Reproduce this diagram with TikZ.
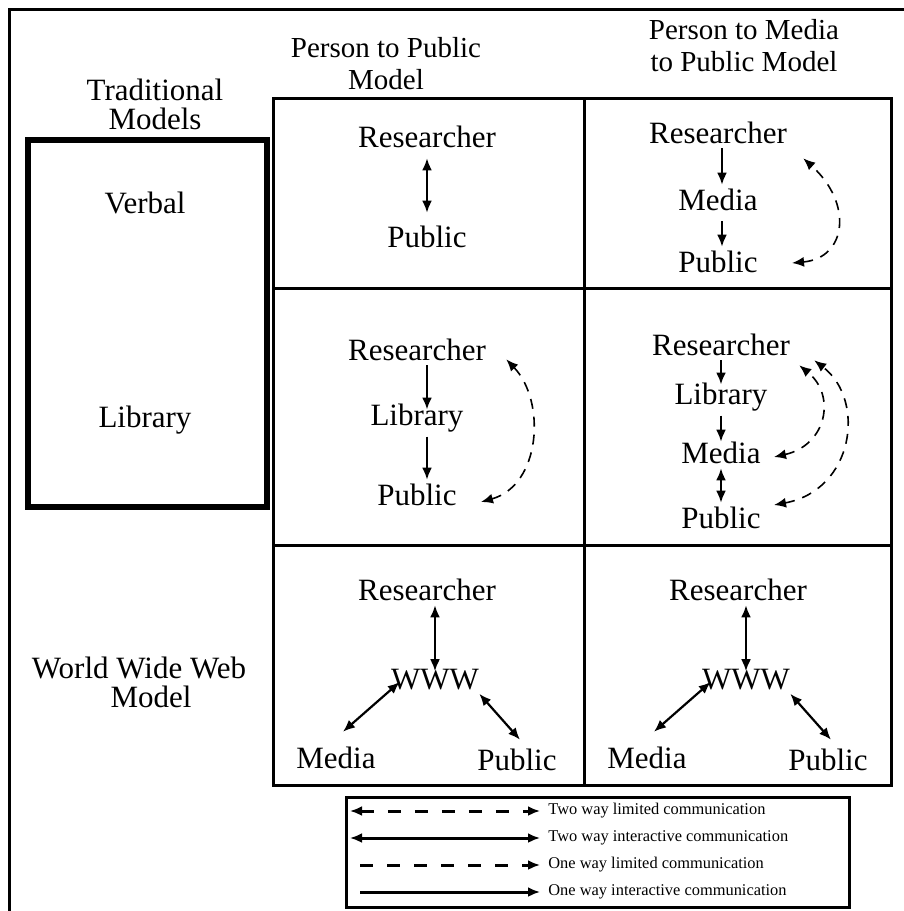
\documentclass[tikz,border=0pt]{standalone}
\usepackage{fontspec}
\setmainfont{Liberation Serif}
\usetikzlibrary{calc,arrows.meta}
\tikzset{>={Latex[length=6pt,width=5pt]}}
\tikzset{
  word/.style={inner sep=2pt, font=\fontsize{15.5}{18}\selectfont},
  side/.style={align=center, inner sep=0pt, font=\fontsize{15.5}{14.5}\selectfont},
  head/.style={align=center, inner sep=0pt, font=\fontsize{14.5}{16}\selectfont},
  key/.style={anchor=west, inner sep=0pt, font=\fontsize{8.2}{9}\selectfont},
  rule/.style={line width=1.5pt},
  oneway/.style={->, line width=1.1pt},
  twoway/.style={<->, line width=1.1pt},
  limited/.style={<->, line width=0.8pt, dash pattern=on 5pt off 4pt},
}

\begin{document}
\begin{tikzpicture}[x=0.5pt,y=-0.5pt]
\useasboundingbox (0,0) rectangle (904,911);
\clip (0,0) rectangle (904,911);

% frame and table
\draw[rule] (9,9) rectangle (1100,1100);
\draw[line width=3pt] (28,140) rectangle (267,507);
\draw[rule] (273,98) rectangle (891,785);
\draw[rule] (584,98) -- (584,785);
\draw[rule] (273,288) -- (891,288);
\draw[rule] (273,545) -- (891,545);

% headings
\node[head] (h1) at (386,64) {Person to Public\\Model};
\node[head] (h2) at (744,46) {Person to Media\\to Public Model};
\node[side] (trad) at (155,104) {Traditional\\Models};
\node[side] (verb) at (145,203) {Verbal};
\node[side] (libr) at (145,420) {Library};
\node[side] (web) at (139,682) {World Wide Web\\\hspace*{12pt}Model};

% verbal, person to public
\node[word] (r11) at (427,137) {Researcher};
\node[word] (p11) at (427,237) {Public};
\draw[twoway, shorten <=3pt, shorten >=4.5pt] (r11) -- (p11);

% verbal, person to media to public
\node[word] (r12) at (718,133) {Researcher};
\node[word] (m12) at (718,200) {Media};
\node[word] (p12) at (718,262) {Public};
\draw[oneway] ([xshift=2pt]r12.south) -- ([xshift=2pt]m12.north);
\draw[oneway, shorten <=3pt] ([xshift=2pt]m12.south) -- ([xshift=2pt]p12.north);
\draw[limited] ($(p12.east)+(30,1)$) .. controls +(55,-5) and +(50,45) .. ($(r12.south east)+(12,10)$);

% library, person to public
\node[word] (r21) at (417,350) {Researcher};
\node[word] (l21) at (417,418) {Library};
\node[word] (p21) at (417,495) {Public};
\draw[oneway, shorten >=-5pt] ([xshift=5pt]r21.south) -- ([xshift=5pt]l21.north);
\draw[oneway] ([xshift=5pt]l21.south) -- ([xshift=5pt]p21.north);
\draw[limited] ($(p21.east)+(20,7)$) .. controls +(60,-17) and +(40,42) .. ($(r21.south east)+(16,-6)$);

% library, person to media to public
\node[word] (r22) at (721,345) {Researcher};
\node[word] (l22) at (721,397) {Library};
\node[word] (m22) at (721,453) {Media};
\node[word] (p22) at (721,518) {Public};
\draw[oneway, shorten >=-3pt] (r22) -- (l22);
\draw[oneway, shorten >=-2pt] (l22) -- (m22);
\draw[twoway] (m22) -- (p22);
\draw[limited] ($(m22.east)+(9,4)$) .. controls +(53,-12) and +(37,30) .. ($(r22.south east)+(5,5)$);
\draw[limited] ($(p22.east)+(9,-13)$) .. controls +(80,-15) and +(52,40) .. ($(r22.south east)+(20,0)$);

% world wide web, both columns
\foreach \c/\dx in {1/0, 2/311} {
  \node[word] (r3\c) at (427+\dx,590) {Researcher};
  \node[word] (w3\c) at (435+\dx,680) {WWW};
  \node[word] (m3\c) at (336+\dx,758) {Media};
  \node[word] (p3\c) at (517+\dx,760) {Public};
  \draw[twoway, shorten >=-3pt] (w3\c.north |- r3\c.south) -- (w3\c.north);
  \draw[twoway] ($(m3\c.north)+(7,-11)$) -- ($(w3\c.west)+(13,2)$);
  \draw[twoway] ($(w3\c.south east)+(-4,-1)$) -- ($(p3\c.north)+(3,-5)$);
}

% legend
\draw[rule] (346,797) rectangle (849,907);
\node[key] (k1) at (548,811) {Two way limited communication};
\node[key] (k2) at (548,838) {Two way interactive communication};
\node[key] (k3) at (548,865) {One way limited communication};
\node[key] (k4) at (548,892) {One way interactive communication};
\draw[<->, line width=1.5pt, dash pattern=on 6.5pt off 7pt] ($(k1.west)+(-198,0)$) -- ($(k1.west)+(-8,0)$);
\draw[<->, line width=1.5pt] ($(k2.west)+(-198,0)$) -- ($(k2.west)+(-8,0)$);
\draw[->, line width=1.5pt, dash pattern=on 6.5pt off 7pt] ($(k3.west)+(-188,0)$) -- ($(k3.west)+(-8,0)$);
\draw[->, line width=1.5pt] ($(k4.west)+(-188,0)$) -- ($(k4.west)+(-8,0)$);
\end{tikzpicture}
\end{document}
